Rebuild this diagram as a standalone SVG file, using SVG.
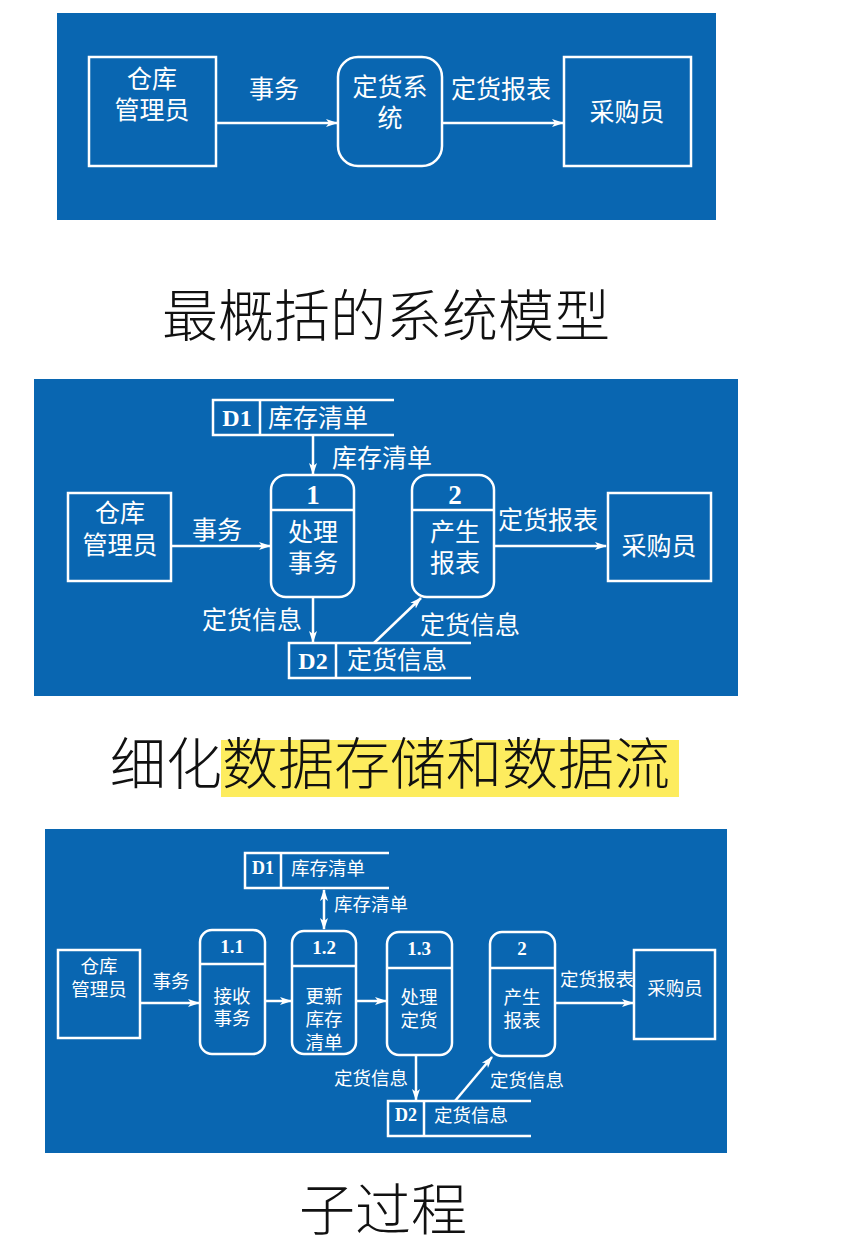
<svg xmlns="http://www.w3.org/2000/svg" width="861" height="1246" viewBox="0 0 861 1246">
<defs>
<style>
.panel{fill:#0966b1}
.ln{fill:none;stroke:#fff;stroke-width:2.5}
.ar{fill:none;stroke:#fff;stroke-width:2.5;marker-end:url(#ah)}
.t{fill:#fff;font-family:"Noto Sans CJK SC","Noto Sans",sans-serif;text-anchor:middle}
.ts{text-anchor:start}
.n{fill:#fff;font-family:"Liberation Serif","DejaVu Serif",serif;font-weight:bold;text-anchor:middle}
.cap{fill:#111;font-family:"Noto Sans CJK SC","Noto Sans",sans-serif;font-weight:300;font-size:56px}
.f24{font-size:25px}.f25{font-size:25px}.f19{font-size:18.5px}
</style>
<marker id="ah" viewBox="0 0 12 10" refX="11" refY="5" markerWidth="12" markerHeight="10" markerUnits="userSpaceOnUse" orient="auto">
<path d="M0,1 L12,5 L0,9 L3,5 Z" fill="#fff"/>
</marker>
<marker id="as" viewBox="0 0 12 10" refX="11" refY="5" markerWidth="12" markerHeight="10" markerUnits="userSpaceOnUse" orient="auto-start-reverse">
<path d="M0,1 L12,5 L0,9 L3,5 Z" fill="#fff"/>
</marker>
</defs>
<rect width="861" height="1246" fill="#fff"/>

<!-- Panel 1 -->
<rect class="panel" x="57" y="13" width="659" height="207"/>
<g id="p1-keeper"><rect class="ln" x="89" y="57" width="127" height="109"/>
<text class="t f24" x="152" y="88">仓库</text><text class="t f24" x="152" y="119">管理员</text></g>
<g id="p1-system"><rect class="ln" x="338" y="57" width="104" height="109" rx="20"/>
<text class="t f24" x="390" y="96">定货系</text><text class="t f24" x="390" y="127">统</text></g>
<g id="p1-buyer"><rect class="ln" x="564" y="57" width="127" height="109"/>
<text class="t f24" x="627" y="121">采购员</text></g>
<g id="p1-connectors">
<line class="ar" x1="216" y1="123" x2="337" y2="123"/>
<line class="ar" x1="442" y1="123" x2="563" y2="123"/>
<text class="t f24" x="274" y="98">事务</text>
<text class="t f24" x="501" y="98">定货报表</text>
</g>
<text class="cap" x="386" y="336" text-anchor="middle">最概括的系统模型</text>

<!-- Panel 2 -->
<rect class="panel" x="34" y="379" width="704" height="317"/>
<g id="p2-d1"><path class="ln" d="M394,400 H213 V435 H394 M260,400 V435"/>
<text class="n" x="237" y="426" font-size="24">D1</text>
<text class="t ts f25" x="268" y="427">库存清单</text></g>
<g id="p2-keeper"><rect class="ln" x="68" y="493" width="103" height="88"/>
<text class="t f25" x="120" y="522">仓库</text><text class="t f25" x="120" y="554">管理员</text></g>
<g id="p2-proc1"><rect class="ln" x="271" y="475" width="83" height="122" rx="15"/><line class="ln" x1="271" y1="510" x2="354" y2="510"/>
<text class="n" x="313" y="504" font-size="27">1</text>
<text class="t f25" x="313" y="541">处理</text><text class="t f25" x="313" y="572">事务</text></g>
<g id="p2-proc2"><rect class="ln" x="412" y="475" width="82" height="122" rx="15"/><line class="ln" x1="412" y1="510" x2="494" y2="510"/>
<text class="n" x="455" y="504" font-size="27">2</text>
<text class="t f25" x="455" y="541">产生</text><text class="t f25" x="455" y="572">报表</text></g>
<g id="p2-buyer"><rect class="ln" x="608" y="493" width="103" height="88"/>
<text class="t f25" x="659" y="555">采购员</text></g>
<g id="p2-d2"><path class="ln" d="M471,643 H289 V678 H471 M336,643 V678"/>
<text class="n" x="313" y="669" font-size="24">D2</text>
<text class="t ts f25" x="347" y="669">定货信息</text></g>
<g id="p2-connectors">
<line class="ar" x1="313" y1="435" x2="313" y2="474"/>
<line class="ar" x1="171" y1="546" x2="270" y2="546"/>
<line class="ar" x1="494" y1="546" x2="606" y2="546"/>
<line class="ar" x1="313" y1="597" x2="313" y2="642"/>
<line class="ar" x1="374" y1="643" x2="421" y2="598"/>
<text class="t ts f25" x="332" y="467">库存清单</text>
<text class="t f25" x="217" y="539">事务</text>
<text class="t f25" x="548" y="529">定货报表</text>
<text class="t f25" x="252" y="629">定货信息</text>
<text class="t f25" x="470" y="634">定货信息</text>
</g>
<rect x="221" y="740" width="458" height="57" fill="#fdec5e"/>
<text class="cap" x="110" y="784">细化数据存储和数据流</text>

<!-- Panel 3 -->
<rect class="panel" x="45" y="829" width="682" height="324"/>
<g id="p3-d1"><path class="ln" d="M389,853 H245 V888 H389 M281,853 V888"/>
<text class="n" x="263" y="874" font-size="18">D1</text>
<text class="t ts f19" x="291" y="875">库存清单</text></g>
<g id="p3-keeper"><rect class="ln" x="58" y="950" width="82" height="88"/>
<text class="t f19" x="99" y="973">仓库</text><text class="t f19" x="99" y="996">管理员</text></g>
<g id="p3-proc11"><rect class="ln" x="200" y="930" width="65" height="124" rx="12"/><line class="ln" x1="200" y1="964" x2="265" y2="964"/>
<text class="n" x="232" y="953" font-size="19">1.1</text>
<text class="t f19" x="232" y="1003">接收</text><text class="t f19" x="232" y="1025">事务</text></g>
<g id="p3-proc12"><rect class="ln" x="292" y="931" width="64" height="123" rx="12"/><line class="ln" x1="292" y1="966" x2="356" y2="966"/>
<text class="n" x="324" y="954" font-size="19">1.2</text>
<text class="t f19" x="324" y="1003">更新</text><text class="t f19" x="324" y="1026">库存</text><text class="t f19" x="324" y="1049">清单</text></g>
<g id="p3-proc13"><rect class="ln" x="387" y="932" width="65" height="123" rx="12"/><line class="ln" x1="387" y1="968" x2="452" y2="968"/>
<text class="n" x="419" y="955" font-size="19">1.3</text>
<text class="t f19" x="419" y="1004">处理</text><text class="t f19" x="419" y="1027">定货</text></g>
<g id="p3-proc2"><rect class="ln" x="490" y="932" width="65" height="124" rx="12"/><line class="ln" x1="490" y1="968" x2="555" y2="968"/>
<text class="n" x="522" y="955" font-size="19">2</text>
<text class="t f19" x="522" y="1004">产生</text><text class="t f19" x="522" y="1027">报表</text></g>
<g id="p3-buyer"><rect class="ln" x="634" y="950" width="81" height="89"/>
<text class="t f19" x="675" y="995">采购员</text></g>
<g id="p3-d2"><path class="ln" d="M531,1101 H388 V1136 H531 M424,1101 V1136"/>
<text class="n" x="406" y="1121" font-size="18">D2</text>
<text class="t ts f19" x="434" y="1122">定货信息</text></g>
<g id="p3-connectors">
<line class="ln" x1="324" y1="890" x2="324" y2="929" marker-start="url(#as)" marker-end="url(#ah)"/>
<line class="ar" x1="140" y1="1003" x2="199" y2="1003"/>
<line class="ar" x1="265" y1="1001" x2="291" y2="1001"/>
<line class="ar" x1="356" y1="1001" x2="386" y2="1001"/>
<line class="ar" x1="555" y1="1003" x2="633" y2="1003"/>
<line class="ar" x1="416" y1="1055" x2="416" y2="1100"/>
<line class="ar" x1="455" y1="1101" x2="492" y2="1057"/>
<text class="t ts f19" x="334" y="911">库存清单</text>
<text class="t f19" x="171" y="988">事务</text>
<text class="t f19" x="597" y="986">定货报表</text>
<text class="t f19" x="371" y="1085">定货信息</text>
<text class="t f19" x="527" y="1087">定货信息</text>
</g>
<text class="cap" x="383" y="1230" text-anchor="middle">子过程</text>
</svg>
